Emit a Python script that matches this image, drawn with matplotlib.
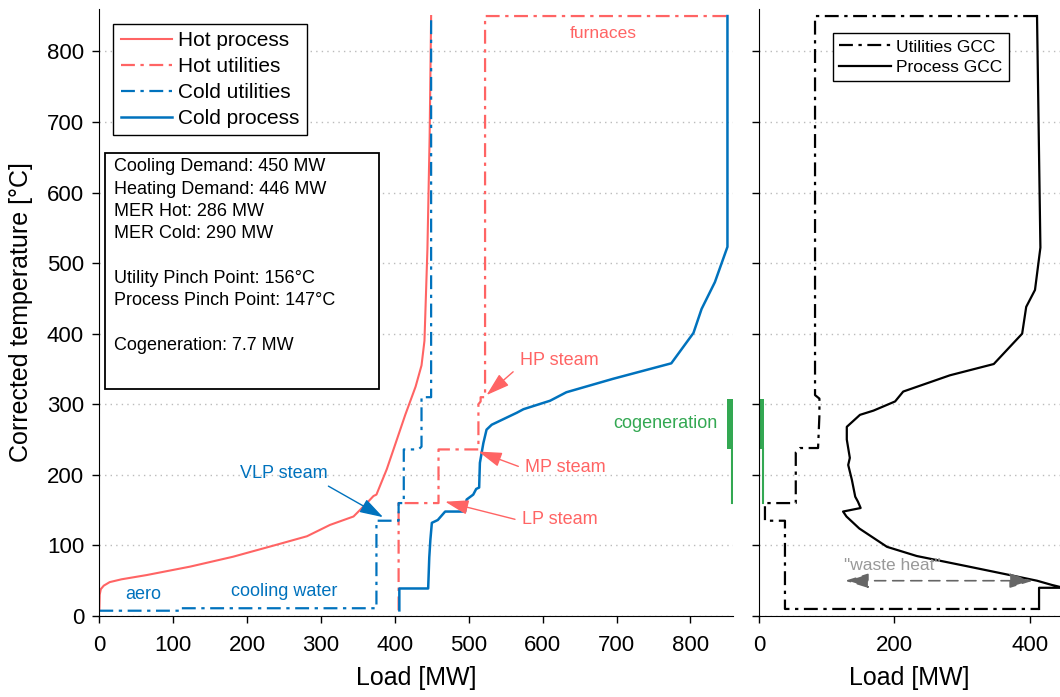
import matplotlib.pyplot as plt
from matplotlib.patches import Rectangle

plt.rcParams['font.family'] = ['Liberation Sans', 'DejaVu Sans']
plt.rcParams['lines.scale_dashes'] = False

RED = '#ff6464'
BLUE = '#0072bd'
GREEN = '#33a852'
GREY = '#999999'
DASHDOT = (0, (10, 4, 2.4, 4))

# composite curves: load [MW] / corrected temperature [degC]
hot_process_q = [0, 0.5, 2, 6, 14, 30, 64, 123, 181, 240, 281, 312, 344, 362, 371, 375,
                 389, 402, 414, 428, 436, 440, 444, 447, 449]
hot_process_t = [9, 30, 38, 43, 48, 52, 58, 70, 84, 101, 113, 129, 141, 160, 170, 172,
                 208, 248, 285, 325, 355, 390, 520, 680, 850]

hot_util_q = [405, 405, 459, 459, 513, 513, 516, 516, 522, 522, 850]
hot_util_t = [8, 160, 160, 236, 236, 300, 304, 310, 310, 850, 850]

cold_util_q = [0, 108, 108, 375, 375, 405, 405, 412, 412, 432, 436, 436, 449, 449]
cold_util_t = [7.5, 7.5, 11, 11, 135, 135, 160, 160, 236, 236, 240, 310, 310, 850]

cold_process_q = [406, 406, 445, 446.5, 448, 450, 458, 463, 468, 495, 497, 506, 510, 514,
                  515, 519.7, 524, 531, 565, 574, 610, 632, 695, 774, 804, 815, 833, 850, 850]
cold_process_t = [8, 39, 39, 83, 108, 132, 136, 142, 148, 148, 165, 172, 180, 182,
                  217, 245, 264, 271, 288, 293, 305, 317, 336, 358, 401, 435, 473, 523, 850]

# grand composite curves
util_gcc_q = [411, 82.5, 82.5, 89, 89, 87, 60, 54, 54, 8.4, 8.4, 38, 38, 414]
util_gcc_t = [850, 850, 313, 308, 285, 238, 238, 232, 160, 160, 135, 135, 10, 10]

proc_gcc_q = [411, 416, 408, 395, 389, 347, 282, 213, 201, 169, 149, 129.5, 129.5, 134,
              131.6, 137, 142, 146, 150, 124, 129, 148, 189, 233, 307, 381, 411, 433,
              450, 414, 414]
proc_gcc_t = [850, 522, 462, 438, 400, 357, 341, 318, 304, 291, 285, 268, 250, 224,
              214, 193, 169, 162, 153, 148, 141, 124, 98, 85, 70.6, 56, 50, 44,
              40, 40, 10]

heating_end = 849.8
cogen_mw = 7.7
cogen_offset = 6
cogen_t_band = [236, 308]
cogen_t_line = [160, 236]

info = ("Cooling Demand: 450 MW\nHeating Demand: 446 MW\nMER Hot: 286 MW\n"
        "MER Cold: 290 MW\n\nUtility Pinch Point: 156°C\nProcess Pinch Point: 147°C\n\n"
        "Cogeneration: 7.7 MW")

fig = plt.figure(figsize=(10.6, 6.97), dpi=100)
ax1 = fig.add_axes([0.0937, 0.1162, 0.5978, 0.8709])
ax2 = fig.add_axes([0.7163, 0.1162, 0.2837, 0.8709])

for ax in (ax1, ax2):
    ax.set_ylim(0, 860)
    ax.set_yticks(range(0, 900, 100))
    ax.spines['top'].set_visible(False)
    ax.spines['right'].set_visible(False)
    ax.set_axisbelow(True)
    ax.yaxis.grid(True, linestyle=(0, (1, 3)), color='#bbbbbb', lw=1)
    ax.tick_params(direction='out', length=5, width=1, labelsize=16, pad=6)
    ax.tick_params(axis='x', pad=9)
    ax.set_xlabel('Load [MW]', fontsize=18, labelpad=7)

# left: composite curves
ax1.plot(hot_process_q, hot_process_t, color=RED, lw=1.5, label='Hot process')
ax1.plot(hot_util_q, hot_util_t, color=RED, lw=1.6, ls=DASHDOT, label='Hot utilities')
ax1.plot(cold_util_q, cold_util_t, color=BLUE, lw=1.6, ls=DASHDOT, label='Cold utilities')
ax1.plot(cold_process_q, cold_process_t, color=BLUE, lw=1.8, label='Cold process')
ax1.fill_betweenx(cogen_t_band, heating_end, heating_end + cogen_mw, color=GREEN, lw=0)
ax1.plot([heating_end + cogen_offset] * 2, cogen_t_line, color=GREEN, lw=1.5)
ax1.set_xlim(0, heating_end + cogen_mw)
ax1.set_xticks(range(0, 900, 100))
ax1.set_ylabel('Corrected temperature [°C]', fontsize=18, labelpad=10)

leg = ax1.legend(loc='upper left', bbox_to_anchor=(0.0221, 0.9753), borderaxespad=0,
                 fontsize=15, handlelength=2.45, handletextpad=0.3, labelspacing=0.33,
                 borderpad=0.35, fancybox=False, framealpha=1, edgecolor='black')
leg.get_frame().set_linewidth(1.0)

ax1.add_patch(Rectangle((0.009, 0.3735), 0.4325, 0.3888, transform=ax1.transAxes,
                        fc='white', ec='black', lw=1.3, zorder=4))
ax1.text(0.0237, 0.754, info, transform=ax1.transAxes, fontsize=13, va='top',
         linespacing=1.41, zorder=5)

arrow_red = dict(arrowstyle='-|>,head_length=0.8,head_width=0.25', mutation_scale=18,
                 color=RED, lw=1, shrinkA=0, shrinkB=0)
arrow_blue = dict(arrow_red, color=BLUE)
ax1.text(681.6, 825, 'furnaces', color=RED, fontsize=12.5, ha='center', va='center')
ax1.text(569, 362, 'HP steam', color=RED, fontsize=13, ha='left', va='center')
ax1.annotate('', xy=(524, 313), xytext=(560, 346), arrowprops=arrow_red)
ax1.text(576, 210, 'MP steam', color=RED, fontsize=13, ha='left', va='center')
ax1.annotate('', xy=(513, 233), xytext=(567, 212), arrowprops=arrow_red)
ax1.text(571.5, 137, 'LP steam', color=RED, fontsize=13, ha='left', va='center')
ax1.annotate('', xy=(468, 162), xytext=(562.5, 137), arrowprops=arrow_red)
ax1.text(249, 202, 'VLP steam', color=BLUE, fontsize=13, ha='center', va='center')
ax1.annotate('', xy=(384, 140), xytext=(310, 184), arrowprops=arrow_blue)
ax1.text(59.5, 30, 'aero', color=BLUE, fontsize=13, ha='center', va='center')
ax1.text(250, 34.5, 'cooling water', color=BLUE, fontsize=13, ha='center', va='center')
ax1.text(836, 273, 'cogeneration', color=GREEN, fontsize=13, ha='right', va='center')

# right: grand composite curves
ax2.plot(util_gcc_q, util_gcc_t, color='black', lw=1.6, ls=DASHDOT, label='Utilities GCC')
ax2.plot(proc_gcc_q, proc_gcc_t, color='black', lw=1.6, label='Process GCC')
ax2.fill_betweenx(cogen_t_band, 0, cogen_mw, color=GREEN, lw=0)
ax2.plot([cogen_offset] * 2, cogen_t_line, color=GREEN, lw=1.5)
ax2.set_xlim(0, 445)
ax2.set_xticks([0, 200, 400])
ax2.tick_params(labelleft=False)
leg2 = ax2.legend(loc='upper left', bbox_to_anchor=(0.245, 0.960), borderaxespad=0,
                  fontsize=12.5, handlelength=3.0, handletextpad=0.3, labelspacing=0.3,
                  borderpad=0.35, fancybox=False, framealpha=1, edgecolor='black')
leg2.get_frame().set_linewidth(1.0)

ax2.text(197.5, 72, '"waste heat"', color=GREY, fontsize=12.5, ha='center', va='center')
ax2.annotate('', xy=(127, 50), xytext=(405, 50),
             arrowprops=dict(arrowstyle='<|-|>,head_length=0.8,head_width=0.25',
                             mutation_scale=18, color='#666666', lw=1.2, ls=(0, (8, 5)),
                             shrinkA=0, shrinkB=0))

fig.savefig('out.png', dpi=100)
